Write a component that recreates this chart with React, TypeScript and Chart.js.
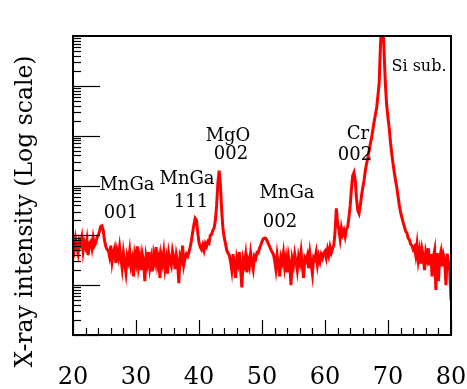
import React, { useEffect, useRef } from "react";
import { Chart, registerables } from "chart.js";

Chart.register(...registerables);

// 2θ sampling: 20° .. 80° every 0.2°
const START_ANGLE = 20;
const ANGLE_STEP = 0.2;

// X-ray intensity (counts)
const intensity: number[] = [
  // 20.0 - 23.6
  70, 52, 85, 60, 44, 78, 66, 90, 48, 72, 58, 82, 40, 68, 75, 55, 88, 62, 70,
  // 23.8 - 25.4  (MnGa 001)
  90, 100, 120, 150, 155, 125, 80, 60, 52,
  // 25.6 - 27.4
  50, 38, 62, 30, 45, 55, 28, 48, 36, 58,
  // 27.6 - 38.2
  35, 22, 44, 28, 18, 38, 30, 48, 25, 33, 15, 40, 29, 60, 24, 36, 20, 42, 31, 12,
  37, 27, 46, 23, 34, 19, 41, 30, 58, 26, 35, 14, 39, 28, 45, 22, 33, 17, 43, 31,
  25, 48, 36, 21, 40, 29, 11, 38, 32, 62, 26, 35, 42, 38,
  // 38.4 - 40.2  (MnGa 111)
  46, 58, 79, 115, 166, 219, 200, 115, 72, 58,
  // 40.4 - 41.6
  52, 64, 50, 68, 60, 75, 70,
  // 41.8 - 44.8  (MgO 002)
  100, 105, 126, 140, 200, 398, 1148, 1995, 1000, 316, 138, 91, 69, 50, 44, 40,
  // 45.0 - 49.2
  30, 20, 42, 25, 14, 35, 27, 46, 22, 9, 33, 26, 40, 18, 31, 24, 44, 29, 21, 38, 34, 45,
  // 49.4 - 51.8  (MnGa 002)
  44, 55, 63, 75, 85, 88, 87, 78, 68, 60, 52, 46, 42,
  // 52.0 - 59.8
  32, 21, 40, 26, 15, 36, 29, 44, 23, 34, 18, 38, 27, 10, 33, 25, 42, 30, 20, 37,
  28, 46, 24, 14, 35, 31, 39, 22, 43, 27, 17, 36, 33, 45, 26, 38, 30, 41, 35, 44,
  // 60.0 - 61.2
  48, 36, 52, 40, 58, 45, 55,
  // 61.4 - 63.8
  63, 120, 347, 174, 130, 85, 140, 105, 126, 95, 132, 150, 229,
  // 64.0 - 65.4  (Cr 002)
  398, 871, 1585, 1820, 1259, 550, 316, 275,
  // 65.6 - 66.0
  398, 631, 912,
  // 66.2 - 72.4  (Si substrate)
  1259, 1995, 2754, 3631, 5012, 6918, 9120, 13200, 19000, 26300, 36300, 63100,
  115000, 631000, 2000000, 2000000, 398000, 100000, 39800, 22900, 13800, 7244,
  4365, 2754, 1820, 1259, 912, 603, 398, 288, 229, 182,
  // 72.6 - 74.0
  150, 120, 112, 88, 82, 66, 62, 52,
  // 74.2 - 79.8
  58, 40, 65, 32, 48, 27, 52, 38, 20, 45, 34, 55, 25, 42, 15, 37, 50, 8, 44, 12,
  36, 47, 24, 40, 31, 10, 43, 29, 20,
  // 80.0
  5,
];

// Axis ranges
const X_MIN = 20;
const X_MAX = 80;
const X_MAJOR = 10;
const X_MINOR = 2;
const Y_MIN = 1;
const Y_MAX = 1e6;

const Y_TITLE = "X-ray intensity (Log scale)";

// Peak annotations: text, 2θ position and intensity (baseline) in data units
const peakTexts = ["MnGa", "001", "MnGa", "111", "MgO", "002", "MnGa", "002", "Cr", "002"];
const peakTextAngles = [28.57, 27.62, 38.1, 38.73, 44.6, 45.08, 53.97, 52.86, 65.24, 64.76];
const peakTextCounts = [794, 219, 1096, 363, 7943, 3467, 550, 145, 8710, 3311];

const substrateText = "Si sub.";
const substrateAngle = 74.92;
const substrateCount = 199500;

const SERIF = '"DejaVu Serif", serif';

const decorPlugin = {
  id: "decor",
  afterDraw(chart: any) {
    const { ctx, chartArea } = chart;
    const { left, right, top, bottom } = chartArea;
    const xs = chart.scales.x;
    const ys = chart.scales.y;
    ctx.save();
    ctx.strokeStyle = "#000";
    ctx.lineWidth = 1.2;
    // x ticks (inside)
    for (let v = X_MIN; v <= X_MAX; v += X_MINOR) {
      const px = Math.round(xs.getPixelForValue(v)) + 0.5;
      const len = v % X_MAJOR === 0 ? 15 : 7;
      ctx.beginPath();
      ctx.moveTo(px, bottom);
      ctx.lineTo(px, bottom - len);
      ctx.stroke();
    }
    // y ticks (inside, logarithmic)
    for (let d = 0; d < 6; d++) {
      for (let m = 1; m <= 9; m++) {
        const v = m * Math.pow(10, d);
        const py = Math.round(ys.getPixelForValue(v)) + 0.5;
        const len = m === 1 ? 27 : 8;
        ctx.beginPath();
        ctx.moveTo(left, py);
        ctx.lineTo(left + len, py);
        ctx.stroke();
      }
    }
    // frame
    ctx.lineWidth = 2;
    ctx.strokeRect(left, top, right - left, bottom - top);

    // annotations
    ctx.fillStyle = "#000";
    ctx.textAlign = "center";
    ctx.textBaseline = "alphabetic";
    ctx.font = `18px ${SERIF}`;
    peakTexts.forEach((t, i) => {
      ctx.fillText(t, xs.getPixelForValue(peakTextAngles[i]), ys.getPixelForValue(peakTextCounts[i]));
    });
    ctx.font = `16px ${SERIF}`;
    ctx.fillText(substrateText, xs.getPixelForValue(substrateAngle), ys.getPixelForValue(substrateCount));

    // y title
    ctx.save();
    ctx.translate(32, (top + bottom) / 2 + 26);
    ctx.rotate(-Math.PI / 2);
    ctx.font = `23.5px ${SERIF}`;
    ctx.textAlign = "center";
    ctx.textBaseline = "alphabetic";
    ctx.fillText(Y_TITLE, 0, 0);
    ctx.restore();

    ctx.restore();
  },
};

export default function App() {
  const canvasRef = useRef<HTMLCanvasElement | null>(null);

  useEffect(() => {
    document.body.style.margin = "0";
    const canvas = canvasRef.current;
    if (!canvas) return;
    const points = intensity.map((c, i) => ({ x: START_ANGLE + ANGLE_STEP * i, y: c }));
    const chart = new Chart(canvas, {
      type: "line",
      data: {
        datasets: [
          {
            data: points,
            borderColor: "#ff0000",
            borderWidth: 3,
            pointRadius: 0,
            tension: 0,
            fill: false,
          },
        ],
      },
      options: {
        responsive: false,
        animation: false,
        devicePixelRatio: 1,
        layout: { padding: { left: 0, right: 16, top: 36, bottom: 0 } },
        plugins: {
          legend: { display: false },
          tooltip: { enabled: false },
          title: { display: false },
        },
        scales: {
          x: {
            type: "linear",
            min: X_MIN,
            max: X_MAX,
            grid: { display: false, drawTicks: false },
            border: { display: false },
            ticks: {
              stepSize: X_MAJOR,
              color: "#000",
              padding: 28,
              font: { family: SERIF, size: 24 },
            },
            afterFit: (s: any) => {
              s.height = 54;
              s.paddingLeft = 0;
              s.paddingRight = 0;
            },
          },
          y: {
            type: "logarithmic",
            min: Y_MIN,
            max: Y_MAX,
            grid: { display: false, drawTicks: false },
            border: { display: false },
            ticks: { display: false },
            afterFit: (s: any) => {
              s.width = 73;
              s.paddingTop = 0;
              s.paddingBottom = 0;
            },
          },
        },
      },
      plugins: [decorPlugin],
    });
    return () => chart.destroy();
  }, []);

  return (
    <div style={{ width: 467, height: 389 }}>
      <canvas ref={canvasRef} width={467} height={389} style={{ display: "block", width: 467, height: 389 }} />
    </div>
  );
}
